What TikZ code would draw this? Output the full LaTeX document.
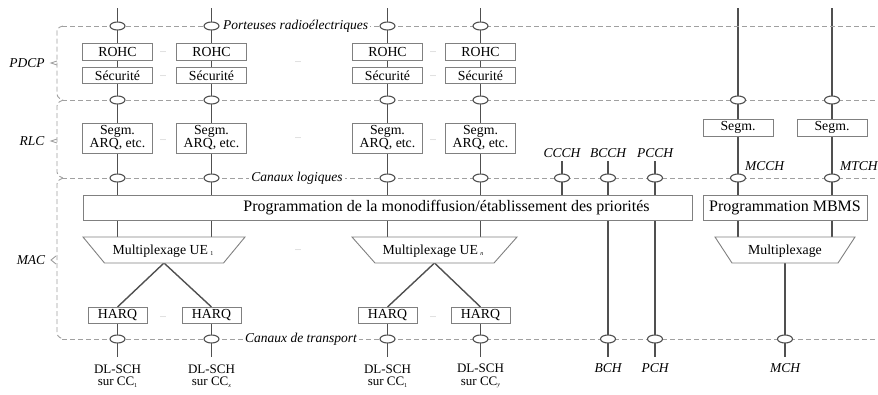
\documentclass[tikz,border=0pt]{standalone}
\usepackage{fontspec}
\setmainfont{Liberation Serif}
\usetikzlibrary{backgrounds,shapes.geometric}
\definecolor{boxgray}{HTML}{808080}
\definecolor{wiregray}{HTML}{505050}
\definecolor{dashgray}{HTML}{A0A0A0}
\definecolor{dotgray}{HTML}{999999}
\newcommand\tinysub[1]{\raisebox{-1.5pt}{\fontsize{6}{6}\selectfont #1}}
\begin{document}
\begin{tikzpicture}[x=1pt,y=-1pt,
  every node/.style={inner sep=0pt, outer sep=0pt},
  box/.style={draw=boxgray, line width=0.9pt, fill=white, minimum width=70pt,
    font=\fontsize{13.8}{13}\selectfont, align=center},
  chan/.style={draw=wiregray, line width=1.1pt, fill=white, ellipse,
    minimum width=15pt, minimum height=8pt},
  wire/.style={draw=wiregray, line width=1.4pt},
  layer/.style={draw=dashgray, line width=0.9pt, dash pattern=on 5pt off 3pt},
  tick/.style={draw=dashgray, line width=0.9pt},
  ital/.style={font=\fontsize{13.5}{13}\selectfont\itshape},
  chlabel/.style={fill=white, inner xsep=2pt, inner ysep=2pt,
    font=\fontsize{13.5}{13}\selectfont\itshape},
  dots/.style={text=dotgray, font=\fontsize{8}{8}\selectfont},
  trap/.style={draw=boxgray, line width=0.9pt, fill=white},
  muxshape/.style={minimum height=26pt, font=\fontsize{13.5}{13}\selectfont},
  chname/.style={font=\fontsize{13}{12.5}\selectfont, align=center},
]
\useasboundingbox (0,0) rectangle (878,394);

% ---------- layer boundaries ----------
\draw[layer] (62,26) -- (878,26);
\draw[layer] (62,100) -- (878,100);
\draw[layer] (62,178) -- (878,178);
\draw[layer] (62,339) -- (878,339);
% braces on the left
\draw[layer, rounded corners=3pt] (63,26) -- (57,28) -- (57,97) -- (63,100);
\draw[layer, rounded corners=3pt] (63,100) -- (57,103) -- (57,175) -- (63,178);
\draw[layer, rounded corners=3pt] (63,178) -- (57,181) -- (57,336) -- (63,339);
\draw[tick] (57,61) -- (51,63) -- (57,65);
\draw[tick] (57,139) -- (51,141) -- (57,143);
\draw[tick] (56,256) -- (51,260) -- (56,264);
\node[ital] (pdcp) at (27,63) {PDCP};
\node[ital] (rlc) at (32,141) {RLC};
\node[ital] (mac) at (31,260) {MAC};

% ---------- unicast columns ----------
\foreach \n/\x in {1/117.5,2/211.5,3/387.5,4/480.5}{
  \coordinate (top\n) at (\x,8);
  \node[chan] (pb\n) at (\x,26) {};
  \node[box, minimum height=17pt] (rohc\n) at (\x,51.5) {ROHC};
  \node[box, minimum height=15.5pt] (sec\n) at (\x,75.5) {Sécurité};
  \node[chan] (rb\n) at (\x,100) {};
  \node[box, minimum height=30pt] (seg\n) at (\x,138) {Segm.\\ARQ, etc.};
  \node[chan] (lc\n) at (\x,178) {};
  \node[box, minimum width=59pt, minimum height=16pt] (harq\n) at (\x,315) {HARQ};
  \node[chan] (tc\n) at (\x,339) {};
  \coordinate (bot\n) at (\x,357);
}
\node[dots] (d1) at (163,52) {...};
\node[dots] (d2) at (163,76) {...};
\node[dots] (d3) at (433,52) {...};
\node[dots] (d4) at (433,76) {...};
\node[dots] (d5) at (298,62) {...};
\node[dots] (d6) at (163,140) {...};
\node[dots] (d7) at (433,140) {...};
\node[dots] (d8) at (298,138) {...};
\node[dots] (d9) at (298,250) {...};
\node[dots] (d10) at (163,317) {...};
\node[dots] (d11) at (433,317) {...};

% scheduling
\node[box, minimum width=609pt, minimum height=25pt] (prog) at (387.5,207.5) {};
\node[font=\fontsize{16}{16}\selectfont] (progtext) at (446.5,207.5)
  {Programmation de la monodiffusion/établissement des priorités};

% multiplexers
\node[muxshape, minimum width=162pt] (mux1) at (164,250) {};
\draw[trap] (mux1.north west) -- (mux1.north east) -- ([xshift=-21.5pt]mux1.south east)
  -- ([xshift=21.5pt]mux1.south west) -- cycle;
\node[font=\fontsize{13.8}{13}\selectfont] (mux1text) at (163,251) {Multiplexage UE\,\tinysub{1}};
\node[muxshape, minimum width=165pt] (muxn) at (434.5,250) {};
\draw[trap] (muxn.north west) -- (muxn.north east) -- ([xshift=-23pt]muxn.south east)
  -- ([xshift=23pt]muxn.south west) -- cycle;
\node[font=\fontsize{13.8}{13}\selectfont] (muxntext) at (433,251) {Multiplexage UE\,\tinysub{\itshape n}};

% ---------- common channels ----------
\node[ital] (ccch) at (562,153) {CCCH};
\node[ital] (bcch) at (608,153) {BCCH};
\node[ital] (pcch) at (655,153) {PCCH};
\coordinate (ccchtop) at (562,161);
\coordinate (bcchtop) at (608,161);
\coordinate (pcchtop) at (655,161);
\node[chan] (lc5) at (562,178) {};
\node[chan] (lc6) at (608,178) {};
\node[chan] (lc7) at (655,178) {};
\node[chan] (tc5) at (608,339) {};
\node[chan] (tc6) at (655,339) {};
\coordinate (bchbot) at (608,357);
\coordinate (pchbot) at (655,357);
\node[ital] (bch) at (608,368) {BCH};
\node[ital] (pch) at (655,368) {PCH};

% ---------- MBMS ----------
\coordinate (topr1) at (738,8);
\coordinate (topr2) at (832,8);
\node[chan] (rb5) at (738,100) {};
\node[chan] (rb6) at (832,100) {};
\node[box, minimum height=17pt] (segr1) at (738,127.5) {Segm.};
\node[box, minimum height=17pt] (segr2) at (832,127.5) {Segm.};
\node[ital, anchor=west] (mcch) at (745,166) {MCCH};
\node[ital, anchor=west] (mtch) at (840,166) {MTCH};
\node[chan] (lc8) at (738,178) {};
\node[chan] (lc9) at (832,178) {};
\node[box, minimum width=164pt, minimum height=25pt, font=\fontsize{16}{16}\selectfont] (mbms) at (785,207.5) {Programmation MBMS};
\node[muxshape, minimum width=140pt] (muxr) at (785,250) {};
\draw[trap] (muxr.north west) -- (muxr.north east) -- ([xshift=-17pt]muxr.south east)
  -- ([xshift=17pt]muxr.south west) -- cycle;
\node[font=\fontsize{13.8}{13}\selectfont] (muxrtext) at (785,251) {Multiplexage};
\node[chan] (tc7) at (785,339) {};
\coordinate (mchbot) at (785,357);
\node[ital] (mch) at (785,368) {MCH};

% ---------- channel names on the boundaries ----------
\node[chlabel, anchor=west] (porteuses) at (221,26) {Porteuses radioélectriques};
\node[chlabel] (canlog) at (297,178) {Canaux logiques};
\node[chlabel] (cantr) at (301,339) {Canaux de transport};

% transport channel names
\node[chname] (dl1) at (117.5,376) {DL-SCH\\sur CC\tinysub{1}};
\node[chname] (dl2) at (211.5,376) {DL-SCH\\sur CC\tinysub{\itshape x}};
\node[chname] (dl3) at (387.5,376) {DL-SCH\\sur CC\tinysub{1}};
\node[chname] (dl4) at (480.5,376) {DL-SCH\\sur CC\tinysub{\itshape y}};

% ---------- wires ----------
\begin{pgfonlayer}{background}
\foreach \n in {1,2,3,4}{
  \draw[wire] (top\n) -- (rohc\n);
  \draw[wire] (rohc\n) -- (sec\n);
  \draw[wire] (sec\n) -- (seg\n);
  \draw[wire] (seg\n) -- (prog.north -| seg\n);
  \draw[wire] (harq\n) -- (bot\n);
}
\draw[wire] (prog.south -| seg1) -- (mux1.north -| seg1);
\draw[wire] (prog.south -| seg2) -- (mux1.north -| seg2);
\draw[wire] (prog.south -| seg3) -- (muxn.north -| seg3);
\draw[wire] (prog.south -| seg4) -- (muxn.north -| seg4);
\draw[wire] (mux1.south) -- (harq1.north);
\draw[wire] (mux1.south) -- (harq2.north);
\draw[wire] (muxn.south) -- (harq3.north);
\draw[wire] (muxn.south) -- (harq4.north);
\draw[wire] (ccchtop) -- (prog.north -| ccchtop);
\draw[wire] (bcchtop) -- (prog.north -| bcchtop);
\draw[wire] (pcchtop) -- (prog.north -| pcchtop);
\draw[wire] (prog.south -| bcchtop) -- (bchbot);
\draw[wire] (prog.south -| pcchtop) -- (pchbot);
\draw[wire] (topr1) -- (segr1);
\draw[wire] (topr2) -- (segr2);
\draw[wire] (segr1) -- (mbms.north -| segr1);
\draw[wire] (segr2) -- (mbms.north -| segr2);
\draw[wire] (mbms.south -| segr1) -- (muxr.north -| segr1);
\draw[wire] (mbms.south -| segr2) -- (muxr.north -| segr2);
\draw[wire] (muxr.south) -- (mchbot);
\end{pgfonlayer}
\end{tikzpicture}
\end{document}
